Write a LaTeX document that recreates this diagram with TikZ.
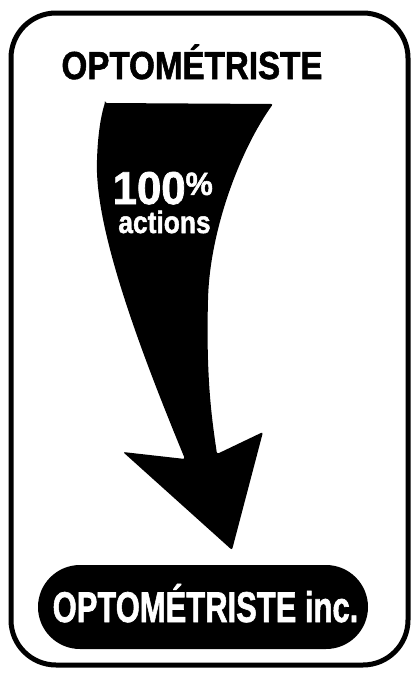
\documentclass[tikz,border=0pt]{standalone}
\usepackage{fontspec}
\setmainfont{Liberation Sans}
\newfontfamily\signfont[FakeBold=1.6]{Liberation Sans Bold}
\usepackage{tikz}
\usetikzlibrary{calc}
\definecolor{SignInk}{HTML}{000000}
\definecolor{SignPaper}{HTML}{FFFFFF}

\begin{document}
\begin{tikzpicture}[x=1pt,y=-1pt,
  lettering/.style={anchor=base,inner sep=0pt,outer sep=0pt},
  heading/.style={lettering,SignInk,xscale=0.85,
    font=\signfont\fontsize{39}{39}\selectfont},
  banner/.style={lettering,SignPaper,xscale=0.72,
    font=\signfont\fontsize{43}{43}\selectfont}]
  \useasboundingbox (0,0) rectangle (411,673);
  % frame of the sign
  \draw[SignInk,line width=5pt,rounded corners=45pt] (11,13) rectangle (408,665);
  \node[heading] (top) at (192,79) {OPTOMÉTRISTE};
  % the bent arrow
  \fill[SignInk,rounded corners=2pt] (105,103) -- (273,104)
    .. controls (240,150) and (210,230) .. (208,300)
    .. controls (206,380) and (212,420) .. (217,454)
    -- (263,432) -- (232,550) -- (123,452) -- (185,459)
    .. controls (140,350) and (95,230) .. (97,160)
    .. controls (98,130) and (102,112) .. cycle;
  \node[lettering,SignPaper,text depth=0pt,xscale=0.95,font=\signfont\fontsize{46}{46}\selectfont]
    (share) at (163,204) {100\textsuperscript{\%}};
  \node[lettering,SignPaper,xscale=0.85,font=\signfont\fontsize{31}{31}\selectfont]
    (what) at (164.5,233) {actions};
  % company banner
  \fill[SignInk,rounded corners=42pt] (38,565) rectangle (368,649);
  \node[banner] (firm) at (205.5,622) {OPTOMÉTRISTE inc.};
\end{tikzpicture}
\end{document}
